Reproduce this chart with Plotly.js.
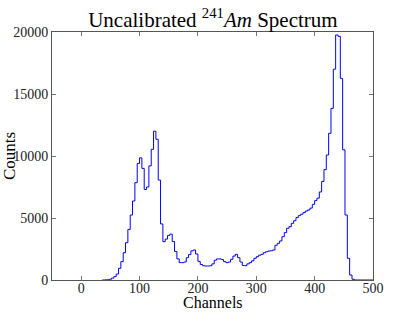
<!DOCTYPE html>
<html>
<head>
<meta charset="utf-8">
<script src="https://cdn.plot.ly/plotly-3.0.1.min.js"></script>
<style>html,body{margin:0;padding:0;background:#fff;}#chart{width:415px;height:312px;}</style>
</head>
<body>
<div id="chart"></div>
<script>
// Bin start channels (4-channel bins)
const channels = [36,40,44,48,52,56,60,64,68,72,76,80,84,88,92,96,100,104,108,112,116,120,124,128,132,136,140,144,148,152,156,160,164,168,172,176,180,184,188,192,196,200,204,208,212,216,220,224,228,232,236,240,244,248,252,256,260,264,268,272,276,280,284,288,292,296,300,304,308,312,316,320,324,328,332,336,340,344,348,352,356,360,364,368,372,376,380,384,388,392,396,400,404,408,412,416,420,424,428,432,436,440,444,448,452,456,460,464,468,500];
const counts = [0,10,20,60,150,270,480,940,1480,2200,3010,4080,5240,6370,7850,9400,9850,9000,7300,7500,9200,10540,12000,11350,8060,4520,3090,3300,3600,3700,3100,2300,1700,1400,1400,1450,1800,2050,2350,2420,2100,1500,1250,1150,1130,1130,1150,1300,1600,1700,1700,1650,1480,1400,1450,1670,1930,2070,1800,1450,1170,1150,1300,1400,1550,1750,1880,2000,2070,2200,2280,2330,2360,2420,2800,2960,3150,3490,3820,4170,4300,4570,4780,5030,5190,5300,5430,5560,5650,5800,6100,6400,6600,7100,7950,8900,10080,11830,13840,17000,19760,19650,16260,10500,5240,1750,400,60,0,0];
const xTicks = [0,100,200,300,400,500];
const yTicks = [0,5000,10000,15000,20000];

const fontFam = '"Liberation Serif", "DejaVu Serif", serif';

const trace = {
  x: channels, y: counts, type: 'scatter', mode: 'lines',
  line: {shape: 'hv', color: '#0000ff', width: 1},
  hoverinfo: 'skip'
};

const axisCommon = {
  showgrid: false, zeroline: false, showline: true, linecolor: '#555', linewidth: 1,
  ticks: 'inside', ticklen: 4, tickcolor: '#777', mirror: 'ticks',
  tickfont: {family: fontFam, size: 14, color: '#222'}
};

const layout = {
  width: 415, height: 312,
  margin: {l: 52, r: 42, t: 32, b: 32},
  paper_bgcolor: '#fff', plot_bgcolor: '#fff',
  showlegend: false,
  title: {text: 'Uncalibrated <sup>241</sup><i>Am</i> Spectrum', font: {family: fontFam, size: 21, color: '#000'},
          x: 0.513, xanchor: 'center', xref: 'container', y: 0.915, yanchor: 'bottom', yref: 'container'},
  xaxis: Object.assign({}, axisCommon, {
    range: [-50, 500], tickvals: xTicks, ticktext: xTicks.map(String), automargin: false,
    ticklabelstandoff: -5
  }),
  yaxis: Object.assign({}, axisCommon, {
    range: [0, 20000], tickvals: yTicks, ticktext: yTicks.map(String), automargin: false,
    title: {text: 'Counts', font: {family: fontFam, size: 17, color: '#000'}, standoff: 0}
  }),
  annotations: [{
    text: 'Channels', xref: 'paper', yref: 'paper', x: 0.5, y: 0, xanchor: 'center', yanchor: 'top',
    yshift: -13, borderpad: 0, showarrow: false, font: {family: fontFam, size: 16, color: '#000'}
  }]
};

Plotly.newPlot('chart', [trace], layout, {displayModeBar: false, staticPlot: true});
</script>
</body>
</html>
